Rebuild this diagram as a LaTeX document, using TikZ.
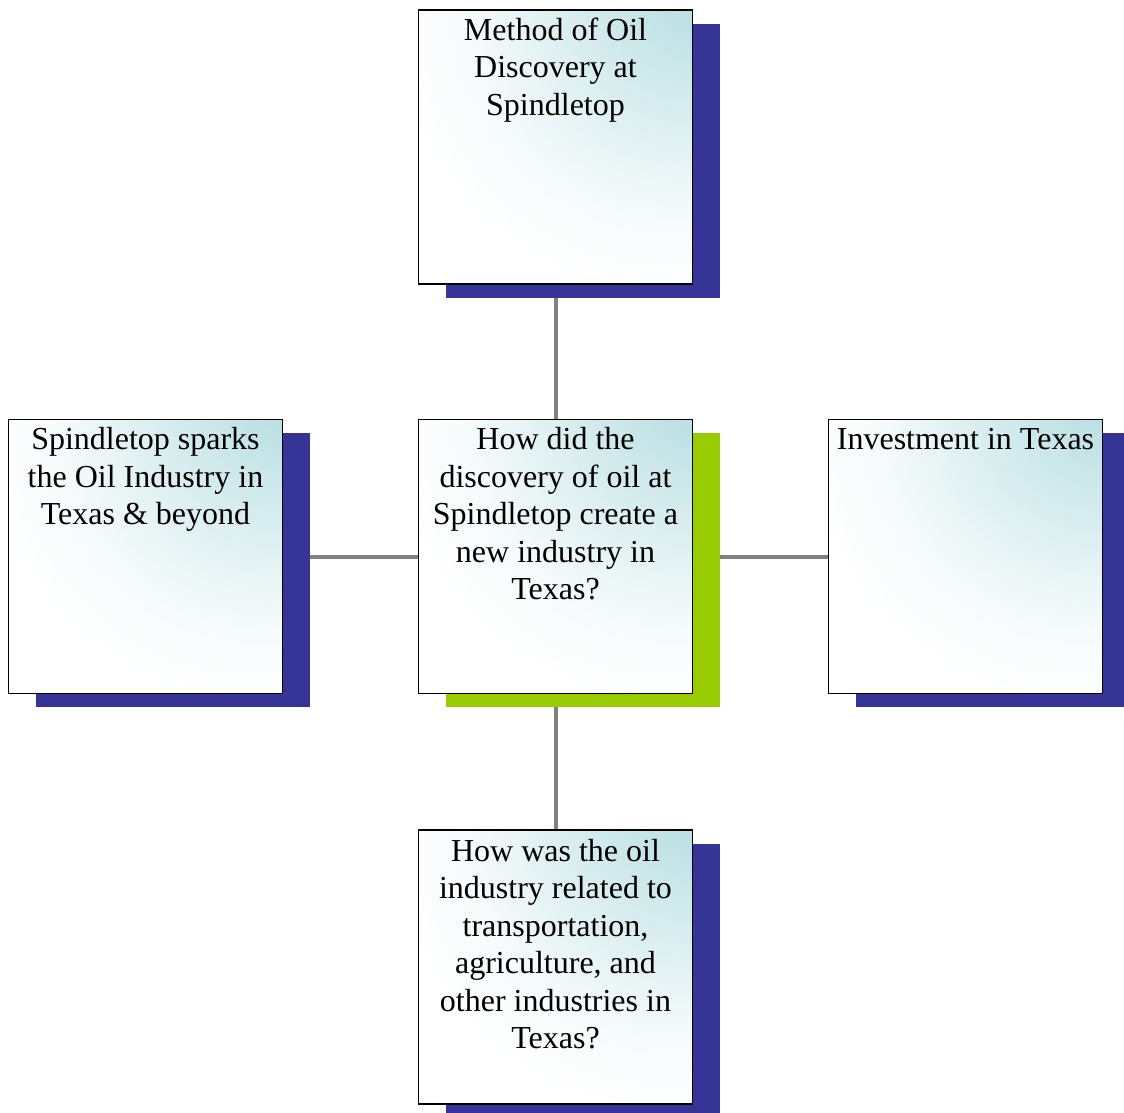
\documentclass[tikz,border=0pt]{standalone}
\usepackage{fontspec}
\setmainfont{Liberation Serif}
\pgfdeclarelayer{lines}
\pgfdeclarelayer{shadows}
\pgfsetlayers{lines,shadows,main}
\definecolor{tealc}{RGB}{183,222,226}
\definecolor{shblue}{RGB}{54,52,150}
\definecolor{shgreen}{RGB}{153,204,0}
\definecolor{linegray}{RGB}{128,128,128}
\pgfdeclareradialshading{cornerteal}{\pgfpoint{30bp}{34bp}}{color(0bp)=(tealc); color(6bp)=(tealc); color(20bp)=(tealc!60!white); color(36bp)=(tealc!15!white); color(48bp)=(white); color(130bp)=(white)}
\begin{document}
\begin{tikzpicture}[x=1pt,y=-1pt,
  card/.style={rectangle, draw=black, line width=1.8pt, shading=cornerteal, minimum width=274pt, minimum height=274pt, inner sep=0pt, outer sep=0pt},
  cardtext/.style={anchor=north, align=center, inner sep=0pt, text=black, font=\fontsize{32}{37.5}\selectfont},
  link/.style={draw=linegray, line width=4pt}]
\useasboundingbox (0,0) rectangle (1124,1112);

\node[card] (top) at (555.5,147) {};
\node[card] (mid) at (555.5,556.5) {};
\node[card] (left) at (145.5,556.5) {};
\node[card] (right) at (965.5,556.5) {};
\node[card] (bot) at (555.5,967) {};

\node[cardtext] (toptext) at (top.north) {\rule{0pt}{30pt}Method of Oil\\Discovery at\\Spindletop};
\node[cardtext] (midtext) at (mid.north) {\rule{0pt}{30pt}How did the\\discovery of oil at\\Spindletop create a\\new industry in\\Texas?};
\node[cardtext] (lefttext) at (left.north) {\rule{0pt}{30pt}Spindletop sparks\\the Oil Industry in\\Texas \& beyond};
\node[cardtext] (righttext) at (right.north) {\rule{0pt}{30pt}Investment in Texas};
\node[cardtext] (bottext) at (bot.north) {\rule{0pt}{31pt}How was the oil\\industry related to\\transportation,\\agriculture, and\\other industries in\\Texas?};

\begin{pgfonlayer}{shadows}
  \fill[shblue] ([shift={(27,13.5)}]top.north west) rectangle ([shift={(27,13.5)}]top.south east);
  \fill[shgreen] ([shift={(27,13.5)}]mid.north west) rectangle ([shift={(27,13.5)}]mid.south east);
  \fill[shblue] ([shift={(27,13.5)}]left.north west) rectangle ([shift={(27,13.5)}]left.south east);
  \fill[shblue] ([shift={(27,13.5)}]right.north west) rectangle ([shift={(27,13.5)}]right.south east);
  \fill[shblue] ([shift={(27,13.5)}]bot.north west) rectangle ([shift={(27,13.5)}]bot.south east);
\end{pgfonlayer}

\begin{pgfonlayer}{lines}
  \path[link] (mid.center) -- (top.center);
  \path[link] (mid.center) -- (left.center);
  \path[link] (mid.center) -- (right.center);
  \path[link] (mid.center) -- (bot.center);
\end{pgfonlayer}
\end{tikzpicture}
\end{document}
